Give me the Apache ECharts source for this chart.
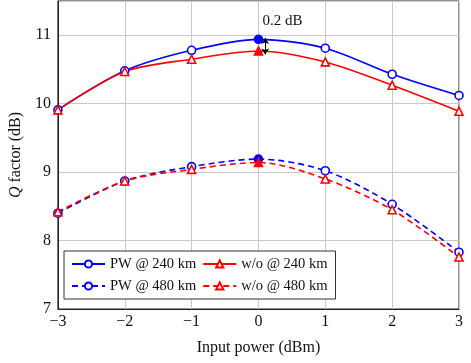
<!DOCTYPE html>
<html>
<head>
<meta charset="utf-8">
<script src="https://cdn.jsdelivr.net/npm/echarts@6/dist/echarts.min.js"></script>
<style>html,body{margin:0;padding:0;background:#fff;}#c{width:471px;height:363px;}</style>
</head>
<body>
<div id="c"></div>
<script>
const xValues = [-3, -2, -1, 0, 1, 2, 3];
const pw240 = [9.91, 10.48, 10.78, 10.94, 10.81, 10.43, 10.12];
const wo240 = [9.91, 10.47, 10.65, 10.77, 10.61, 10.27, 9.89];
const pw480 = [8.40, 8.87, 9.08, 9.19, 9.02, 8.53, 7.83];
const wo480 = [8.42, 8.87, 9.04, 9.14, 8.90, 8.45, 7.76];
const seriesNames = ['PW @ 240 km', 'w/o @ 240 km', 'PW @ 480 km', 'w/o @ 480 km'];
const annotationText = '0.2 dB';
const highlightX = 0;

const FONT = 'Liberation Serif, DejaVu Serif, serif';
const BLUE = '#0000ff', RED = '#ff0000';

function mk(vals, color) {
  return xValues.map((x, i) => {
    const item = { value: [x, vals[i]] };
    if (x === highlightX) item.itemStyle = { color: color, borderColor: color };
    return item;
  });
}

function series(name, vals, color, symbol, dashed, extra) {
  return Object.assign({
    name: name,
    type: 'line',
    data: mk(vals, color),
    smooth: 0.3,
    symbol: symbol,
    symbolSize: 8,
    showAllSymbol: true,
    lineStyle: { color: color, width: 1.6, type: dashed ? [6, 4] : 'solid' },
    itemStyle: { color: '#fff', borderColor: color, borderWidth: 1.6 },
    emphasis: { disabled: true },
    z: 3
  }, extra || {});
}

const chart = echarts.init(document.getElementById('c'), null, { renderer: 'canvas' });
chart.setOption({
  animation: false,
  backgroundColor: '#fff',
  textStyle: { fontFamily: FONT },
  grid: { left: 51, right: 12, top: 1, bottom: 54, show: true, borderColor: '#222', borderWidth: 1 },
  xAxis: {
    type: 'value', min: -3, max: 3, interval: 1,
    name: 'Input power (dBm)', nameLocation: 'middle', nameGap: 31,
    nameTextStyle: { fontFamily: FONT, fontSize: 16, color: '#111' },
    axisLine: { show: true, onZero: false, lineStyle: { color: '#222', width: 1 } },
    axisTick: { show: false },
    axisLabel: { fontFamily: FONT, fontSize: 16, color: '#111', margin: 5,
      formatter: v => String(v).replace('-', '\u2212') },
    splitLine: { show: true, lineStyle: { color: '#c8c8c8', width: 1 } }
  },
  yAxis: {
    type: 'value', min: 7, max: 11.5, interval: 1,
    name: '{i|Q} factor (dB)', nameLocation: 'middle', nameGap: 30,
    nameTextStyle: { fontFamily: FONT, fontSize: 16, color: '#111',
      rich: { i: { fontFamily: FONT, fontSize: 16, fontStyle: 'italic', color: '#111' } } },
    axisLine: { show: true, onZero: false, lineStyle: { color: '#222', width: 1 } },
    axisTick: { show: false },
    axisLabel: { fontFamily: FONT, fontSize: 16, color: '#111', margin: 7, showMaxLabel: false,
      formatter: v => (Number.isInteger(v) ? String(v) : '') },
    splitLine: { show: true, lineStyle: { color: '#c8c8c8', width: 1 } }
  },
  legend: {
    left: 64, top: 251, width: 264,
    orient: 'horizontal',
    data: seriesNames,
    itemWidth: 33, itemHeight: 9, itemGap: 6,
    padding: [5, 8, 5, 7],
    backgroundColor: '#fff',
    borderColor: '#333', borderWidth: 1, borderRadius: 0,
    textStyle: { fontFamily: FONT, fontSize: 14.5, color: '#111', lineHeight: 16 }
  },
  series: [
    series(seriesNames[0], pw240, BLUE, 'circle', false, {
      markLine: {
        silent: true, symbol: ['arrow', 'arrow'], symbolSize: [6, 6],
        label: { show: false },
        lineStyle: { color: '#000', width: 1, type: 'solid' },
        data: [[{ coord: [0.1, 10.96] }, { coord: [0.1, 10.72] }]]
      },
      markPoint: {
        silent: true, symbol: 'circle', symbolSize: 0,
        label: { show: true, position: 'right', distance: 4, formatter: annotationText,
          fontFamily: FONT, fontSize: 15, color: '#111' },
        data: [{ coord: [0, 11.2] }]
      }
    }),
    series(seriesNames[1], wo240, RED, 'triangle', false),
    series(seriesNames[2], pw480, BLUE, 'circle', true),
    series(seriesNames[3], wo480, RED, 'triangle', true)
  ]
});
</script>
</body>
</html>
